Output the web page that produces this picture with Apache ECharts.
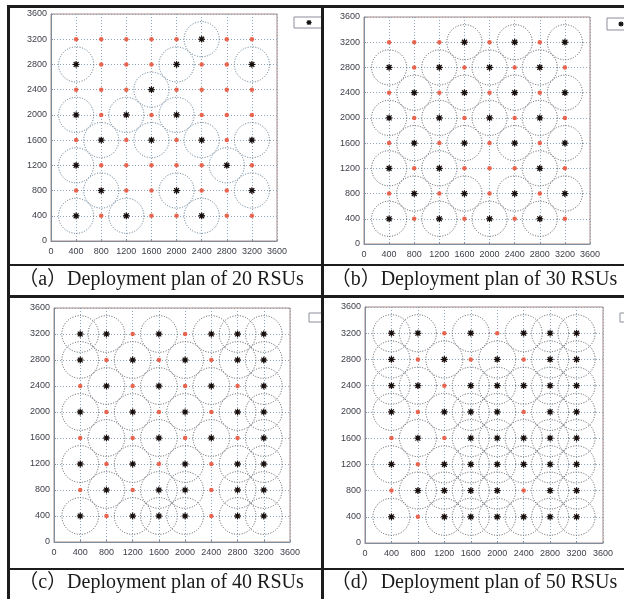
<!DOCTYPE html>
<html>
<head>
<meta charset="utf-8">
<script src="https://cdn.jsdelivr.net/npm/echarts@6/dist/echarts.min.js"></script>
<style>
  html, body { margin: 0; padding: 0; background: #fff; }
  #chart { width: 624px; height: 599px; }
</style>
</head>
<body>
<div id="chart"></div>
<script>
// candidate positions (grid crossings) and axis ticks
var candidateCoords = [400, 800, 1200, 1600, 2000, 2400, 2800, 3200];
var axisMax = 3600;
var tickStep = 400;
var coverRadius = 280;

// RSU positions, [x, y]
var rsu20 = [
  [2400, 3200],
  [400, 2800], [2000, 2800], [3200, 2800],
  [1600, 2400],
  [400, 2000], [1200, 2000], [2000, 2000],
  [800, 1600], [1600, 1600], [2400, 1600], [3200, 1600],
  [400, 1200], [2800, 1200],
  [800, 800], [2000, 800], [3200, 800],
  [400, 400], [1200, 400], [2400, 400]
];
var rsu30 = [
  [1600, 3200], [2400, 3200], [3200, 3200],
  [400, 2800], [1200, 2800], [2000, 2800], [2800, 2800],
  [800, 2400], [1600, 2400], [2400, 2400], [3200, 2400],
  [400, 2000], [1200, 2000], [2000, 2000], [2800, 2000],
  [800, 1600], [1600, 1600], [2400, 1600], [3200, 1600],
  [400, 1200], [1200, 1200], [2800, 1200],
  [800, 800], [1600, 800], [2400, 800], [3200, 800],
  [400, 400], [1200, 400], [2000, 400], [2800, 400]
];
var rsu40 = [
  [400, 3200], [800, 3200], [1600, 3200], [2400, 3200], [2800, 3200], [3200, 3200],
  [400, 2800], [1200, 2800], [2000, 2800], [2800, 2800], [3200, 2800],
  [800, 2400], [1600, 2400], [2400, 2400], [3200, 2400],
  [400, 2000], [1200, 2000], [2000, 2000], [2800, 2000], [3200, 2000],
  [800, 1600], [1600, 1600], [2400, 1600], [3200, 1600],
  [400, 1200], [1200, 1200], [2000, 1200], [2800, 1200], [3200, 1200],
  [800, 800], [1600, 800], [2000, 800], [2800, 800], [3200, 800],
  [400, 400], [1200, 400], [1600, 400], [2000, 400], [2800, 400], [3200, 400]
];
var rsu50 = [
  [400, 3200], [800, 3200], [1600, 3200], [2400, 3200], [2800, 3200], [3200, 3200],
  [400, 2800], [1200, 2800], [2000, 2800], [2800, 2800], [3200, 2800],
  [400, 2400], [800, 2400], [1600, 2400], [2000, 2400], [2400, 2400], [2800, 2400], [3200, 2400],
  [400, 2000], [1200, 2000], [1600, 2000], [2000, 2000], [2800, 2000], [3200, 2000],
  [800, 1600], [1600, 1600], [2000, 1600], [2400, 1600], [2800, 1600], [3200, 1600],
  [400, 1200], [1200, 1200], [1600, 1200], [2000, 1200], [2400, 1200], [2800, 1200], [3200, 1200],
  [800, 800], [1200, 800], [1600, 800], [2000, 800], [2800, 800], [3200, 800],
  [400, 400], [1200, 400], [1600, 400], [2000, 400], [2400, 400], [2800, 400], [3200, 400]
];
var captions = [
  '（a）Deployment plan of 20 RSUs',
  '（b）Deployment plan of 30 RSUs',
  '（c）Deployment plan of 40 RSUs',
  '（d）Deployment plan of 50 RSUs'
];

var panels = [
  { rsu: rsu20, grid: { left: 51, top: 14, width: 226, height: 227 }, ring: '#56748c' },
  { rsu: rsu30, grid: { left: 364, top: 17, width: 226, height: 227 }, ring: '#4f5660' },
  { rsu: rsu40, grid: { left: 54, top: 308, width: 236, height: 234 }, ring: '#4f5660' },
  { rsu: rsu50, grid: { left: 365, top: 307, width: 238, height: 236 }, ring: '#4f5660' }
];

var candidates = [];
candidateCoords.forEach(function (y) {
  candidateCoords.forEach(function (x) { candidates.push([x, y]); });
});

function starShapes(cx, cy, s, color, z) {
  var d = s * 0.72;
  var st = { stroke: color, lineWidth: 1.2 };
  var out = [
    { type: 'circle', shape: { cx: cx, cy: cy, r: 1.8 }, style: { fill: color } },
    { type: 'line', shape: { x1: cx - s, y1: cy, x2: cx + s, y2: cy }, style: st },
    { type: 'line', shape: { x1: cx, y1: cy - s, x2: cx, y2: cy + s }, style: st },
    { type: 'line', shape: { x1: cx - d, y1: cy - d, x2: cx + d, y2: cy + d }, style: st },
    { type: 'line', shape: { x1: cx - d, y1: cy + d, x2: cx + d, y2: cy - d }, style: st }
  ];
  if (z != null) out.forEach(function (e) { e.z = z; });
  return out;
}

function makeRenderer(ringColor) {
  return function (params, api) {
    var c = api.coord([api.value(0), api.value(1)]);
    var r = api.size([coverRadius, 0])[0];
    var kids = [{
      type: 'circle',
      shape: { cx: c[0], cy: c[1], r: r },
      style: { fill: 'none', stroke: ringColor, lineWidth: 1, lineDash: [1, 1.6] }
    }].concat(starShapes(c[0], c[1], 3.4, '#111'));
    return { type: 'group', children: kids };
  };
}

var axisLabelStyle = {
  fontSize: 9, color: '#3c3f48', fontFamily: 'Liberation Sans',
  formatter: function (v) { return String(v); }
};
var gridLineStyle = { color: '#8ea4ba', type: [1, 2], width: 1 };

var option = {
  backgroundColor: '#ffffff',
  animation: false,
  grid: [], xAxis: [], yAxis: [], series: [],
  title: [],
  graphic: []
};

panels.forEach(function (p, i) {
  option.grid.push(Object.assign({
    show: true, backgroundColor: '#ffffff', borderColor: '#a98a84', borderWidth: 1
  }, p.grid));
  option.xAxis.push({
    type: 'value', gridIndex: i, min: 0, max: axisMax, interval: tickStep,
    axisLine: { lineStyle: { color: '#7f8ea0' } },
    axisTick: { inside: true, length: 2, lineStyle: { color: '#7f8ea0' } },
    axisLabel: Object.assign({ margin: 6 }, axisLabelStyle),
    splitLine: { show: true, lineStyle: gridLineStyle }
  });
  option.yAxis.push({
    type: 'value', gridIndex: i, min: 0, max: axisMax, interval: tickStep,
    axisLine: { lineStyle: { color: '#7f8ea0' } },
    axisTick: { inside: true, length: 2, lineStyle: { color: '#7f8ea0' } },
    axisLabel: Object.assign({ margin: 4 }, axisLabelStyle),
    splitLine: { show: true, lineStyle: gridLineStyle }
  });
  option.series.push({
    type: 'scatter', xAxisIndex: i, yAxisIndex: i,
    data: candidates, symbol: 'circle', symbolSize: 4.5,
    itemStyle: { color: '#e8563f', opacity: 0.9 }, z: 2, silent: true
  });
  option.series.push({
    type: 'custom', xAxisIndex: i, yAxisIndex: i,
    data: p.rsu, renderItem: makeRenderer(p.ring), z: 3, silent: true
  });
});

var capStyle = { fontSize: 20, fontWeight: 'normal', color: '#1a1a1a',
  fontFamily: '"Liberation Serif", "Noto Sans CJK SC", serif' };
option.title = [
  { text: captions[0], left: 161, top: 270, textAlign: 'center', textStyle: capStyle, padding: 0 },
  { text: captions[1], left: 474, top: 270, textAlign: 'center', textStyle: capStyle, padding: 0 },
  { text: captions[2], left: 161, top: 573, textAlign: 'center', textStyle: capStyle, padding: 0 },
  { text: captions[3], left: 474, top: 573, textAlign: 'center', textStyle: capStyle, padding: 0 }
];

// legend boxes cut off by the table cells
var legendBoxes = [
  { x: 294, y: 17, w: 28, h: 11, star: [309, 22.5] },
  { x: 607, y: 18, w: 20, h: 12, star: [621, 24] },
  { x: 309, y: 313, w: 13, h: 9, star: null },
  { x: 620, y: 313, w: 8, h: 9, star: null }
];
legendBoxes.forEach(function (b) {
  option.graphic.push({
    type: 'rect', shape: { x: b.x, y: b.y, width: b.w, height: b.h },
    style: { fill: '#ffffff', stroke: '#8a8f98', lineWidth: 1 }, z: 10
  });
  if (b.star) {
    starShapes(b.star[0], b.star[1], 2.6, '#111', 12).forEach(function (e) {
      option.graphic.push(e);
    });
  }
});

// table rules
var rule = { fill: '#1c1c1c' };
[
  { x: 7, y: 5, width: 620, height: 3 },
  { x: 7, y: 5, width: 3, height: 600 },
  { x: 321, y: 5, width: 3, height: 600 },
  { x: 7, y: 264, width: 620, height: 2 },
  { x: 7, y: 295, width: 620, height: 3 },
  { x: 7, y: 568, width: 620, height: 2 }
].forEach(function (r) {
  option.graphic.push({ type: 'rect', shape: r, style: rule, z: 20 });
});

var chart = echarts.init(document.getElementById('chart'));
chart.setOption(option);
</script>
</body>
</html>
